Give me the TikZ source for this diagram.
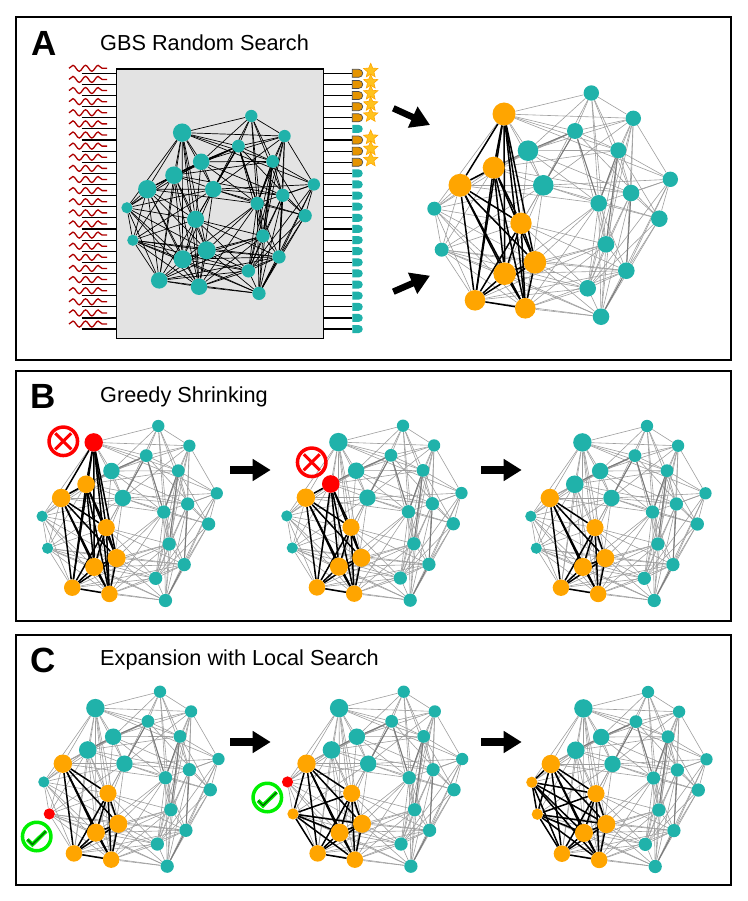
\documentclass[tikz,border=0pt]{standalone}
\usepackage{fontspec}
\setmainfont{Liberation Sans}
\usetikzlibrary{arrows.meta,backgrounds,decorations.pathmorphing,shapes.geometric,shapes.misc}

\definecolor{netteal}{HTML}{20B2AA}
\definecolor{nethot}{HTML}{FFA500}
\definecolor{okgreen}{HTML}{00F000}
\definecolor{starfill}{HTML}{FFC31E}

\tikzset{
  panelbox/.style={draw=black, line width=1.5},
  letter/.style={anchor=base west, inner sep=0, font=\fontsize{35}{40}\selectfont\bfseries},
  title/.style={anchor=base west, inner sep=0, font=\fontsize{21.7}{26}\selectfont},
  tealnode/.style={circle, inner sep=0, fill=netteal},
  hotnode/.style={circle, inner sep=0, fill=nethot},
  rednode/.style={circle, inner sep=0, fill=red},
  netedge/.style={draw=black!38, line width=.6},
  boldedge/.style={draw=black!52, line width=1},
  hotedge/.style={draw=black, line width=1.5},
  bigarrow/.style={-{Triangle[length=18,width=21]}, line width=8},
  tiltarrow/.style={-{Triangle[length=19,width=22]}, line width=6.5},
  wave/.style={draw=red!68!black, line width=1.3, decorate, decoration={snake, segment length=12.6, amplitude=3}},
  rail/.style={draw=black, line width=1.2},
  detoff/.style={rounded rectangle, rounded rectangle west arc=none, inner sep=0, minimum width=10.5, minimum height=8, fill=netteal},
  detclick/.style={detoff, draw=black!70, line width=.7, fill=nethot!90!black},
  clickstar/.style={star, star points=5, star point ratio=2.2, inner sep=0, minimum size=15, fill=starfill, draw=nethot, line width=.6},
  noring/.style={circle, draw=red, line width=3.5, minimum size=28.5, inner sep=0},
  nocross/.style={cross out, draw=red, line width=3, minimum size=13, inner sep=0},
  okring/.style={circle, draw=okgreen, line width=3.5, minimum size=28.5, inner sep=0},
  oktick/.pic={
    \draw[okgreen, line width=4] (-9.3,3) -- (-4.3,8) -- (9.3,-5.3);
    \draw[okgreen!45!black, line width=1.4] (-9.3,3) -- (-4.3,8) -- (9.3,-5.3);
  }
}

% nodes: name / x / y / radius, measured from the top node
\def\netnodes{a1/-87.3/21/11.5, a2/-97.6/74.7/11, a3/-131.3/92.3/11.5, a4/-157/115.7/7, a5/-149.6/156.7/7,
  a6/-70.3/130.3/10.7, a7/-56.3/169.3/11.3, a8/-86.6/180.7/11.3, a9/-116.3/207.3/10.3, a10/-66/215.3/10.3,
  t1/-63.3/57.7/10.3, t2/-48/92.3/10.3, t3/0/0/7.7, t4/-16.3/38/8, t5/42/25.3/7.7, t6/27/57.3/8, t7/79/86.3/7.7,
  t8/39.7/100/8.3, t9/7.4/110.3/8.3, t10/68/125.7/8.3, t11/14.7/151.3/8.3, t12/35/177.7/8.3, t13/-3.6/195.3/8.3, t14/9.7/223.7/8.3}

\def\netedges{a1/a2, a1/a3, a1/a4, a1/a6, a1/a7, a1/a8, a1/a9, a1/a10, a1/t1, a1/t2, a1/t3, a1/t4, a1/t5, a1/t6, a1/t7,
  a2/a3, a2/a4, a2/a5, a2/a6, a2/a7, a2/a8, a2/a9, a2/a10, a2/t1, a2/t2, a2/t4, a2/t6, a2/t8,
  a3/a4, a3/a5, a3/a6, a3/a7, a3/a8, a3/a9, a3/a10, a3/t1, a3/t2, a3/t4, a3/t9,
  a4/a5, a4/a6, a4/a7, a4/a8, a4/a9, a4/a10, a4/t1, a4/t2,
  a5/a6, a5/a7, a5/a8, a5/a9, a5/a10, a5/t2, a5/t12, a5/t13, a5/t14,
  a6/a7, a6/a8, a6/a9, a6/a10, a6/t1, a6/t2, a6/t4, a6/t11, a6/t12, a6/t13,
  a7/a8, a7/a9, a7/a10, a7/t9, a7/t11, a7/t12, a7/t13, a7/t14,
  a8/a9, a8/a10, a8/t2, a8/t9, a8/t11, a8/t12, a8/t13, a8/t14,
  a9/a10, a9/t11, a9/t12, a9/t13, a9/t14,
  a10/t2, a10/t9, a10/t11, a10/t12, a10/t13, a10/t14,
  t1/t2, t1/t3, t1/t4, t1/t5, t1/t6, t1/t8, t1/t9,
  t2/t3, t2/t4, t2/t5, t2/t7, t2/t8, t2/t9, t2/t10,
  t3/t4, t3/t5, t3/t6, t3/t8, t3/t9, t3/t11,
  t4/t5, t4/t6, t4/t9, t4/t10, t4/t11,
  t5/t6, t5/t7, t5/t8, t5/t9, t5/t11, t5/t12, t5/t13,
  t6/t7, t6/t8, t6/t9, t6/t10, t6/t11, t6/t13, t6/t14,
  t7/t8, t7/t9, t7/t10, t7/t12, t7/t13, t7/t14,
  t8/t10, t8/t11, t8/t12, t8/t13, t8/t14,
  t9/t10, t9/t11, t9/t12, t9/t13, t9/t14,
  t10/t12, t10/t13, t10/t14,
  t11/t12, t11/t13, t11/t14,
  t12/t13, t12/t14, t13/t14}

\def\netbold{a2/t1, t1/t4, t2/t4, t4/t9, t6/t11, t8/t12, t12/t14, t6/t9}

% prefix, x, y, xscale, yscale, node scale, nodes in the dark group, red nodes
\newcommand{\netpanel}[8]{
  \foreach \n in {#7} {\expandafter\gdef\csname hot#1\n\endcsname{}}
  \foreach \n in {#8} {\expandafter\gdef\csname red#1\n\endcsname{}}
  \begin{scope}[shift={(#2,#3)}, xscale=#4, yscale=#5]
    \foreach \n/\x/\y/\r in \netnodes {
      \def\nodecol{tealnode}
      \ifcsname hot#1\n\endcsname \def\nodecol{hotnode}\fi
      \ifcsname red#1\n\endcsname \def\nodecol{rednode}\fi
      \node[\nodecol, minimum size=2*\r*#6] (#1\n) at (\x,\y) {};
    }
    \begin{scope}[on background layer]
      \foreach \u/\v in \netedges \draw[netedge] (#1\u) -- (#1\v);
      \foreach \u/\v in \netbold \draw[boldedge] (#1\u) -- (#1\v);
      \foreach \u/\v in \netedges {
        \ifcsname hot#1\u\endcsname \ifcsname hot#1\v\endcsname
          \draw[hotedge] (#1\u) -- (#1\v);
        \fi\fi
      }
    \end{scope}
  \end{scope}
}

\begin{document}
\begin{tikzpicture}[x=1pt, y=-1pt]
\useasboundingbox (0,0) rectangle (747,901);

\draw[panelbox] (16,17) rectangle (731,360);
\draw[panelbox] (16,371) rectangle (731,621);
\draw[panelbox] (16,635) rectangle (731,885);

\node[letter] (letterA) at (31,56) {A};
\node[letter] (letterB) at (30,408.3) {B};
\node[letter] (letterC) at (30,672) {C};
\node[title] (titleA) at (100,50.7) {GBS Random Search};
\node[title] (titleB) at (100,402.3) {Greedy Shrinking};
\node[title] (titleC) at (100,665.7) {Expansion with Local Search};

% panel A: chip with inputs and detectors
\begin{scope}[on background layer]
  \node[draw=black, line width=1.5, fill=black!11, inner sep=0, minimum width=206.6, minimum height=269.3] (chip) at (220,203.6) {};
\end{scope}

\foreach \n in {1,...,24} {
  \pgfmathsetmacro\rowy{73.3+(\n-1)*11.12}
  \coordinate (in\n) at (81.7,\rowy);
  \coordinate (wv\n) at (69,\rowy-5);
  \draw[rail] (in\n) -- (in\n -| chip.west);
  \draw[wave] (wv\n) -- ++(38,0);
  \def\detstyle{detoff}
  \ifnum\n<10 \ifnum\n=6 \else \def\detstyle{detclick}\fi\fi
  \node[\detstyle] (det\n) at (357.5,\rowy) {};
  \draw[rail] (det\n.west -| chip.east) -- (det\n.west);
}
\foreach \n in {1,2,3,4,5,7,8,9}
  \node[clickstar] (star\n) at ([shift={(13.2,-2.5)}]det\n.center) {};

\begin{scope}[netedge/.style={draw=black, line width=.7}, boldedge/.style={draw=black, line width=1.2}]
  \netpanel{g}{251.3}{116}{.792}{.793}{.8}{}{}
\end{scope}

\coordinate (arrAa) at (393.3,108.3);
\coordinate (arrAb) at (430,125);
\coordinate (arrAc) at (393.3,291.7);
\coordinate (arrAd) at (430,275.7);
\draw[tiltarrow] (arrAa) -- (arrAb);
\draw[tiltarrow] (arrAc) -- (arrAd);

\netpanel{s}{591.3}{93}{1}{1}{1}{a1,a2,a3,a6,a7,a8,a9,a10}{}

% panel B
\netpanel{p}{158.3}{426}{.74}{.78}{.8}{a1,a2,a3,a6,a7,a8,a9,a10}{a1}
\netpanel{q}{403}{425.7}{.74}{.78}{.8}{a2,a3,a6,a7,a8,a9,a10}{a2}
\netpanel{r}{647}{426}{.74}{.78}{.8}{a3,a6,a7,a8,a9,a10}{}

\node[noring] (noA) at (63.3,441.3) {};
\node[nocross] (crossA) at (noA) {};
\node[noring] (noB) at (311.7,462.3) {};
\node[nocross] (crossB) at (noB) {};

\coordinate (arrBa) at (230,470);
\coordinate (arrBb) at (270.7,470);
\coordinate (arrBc) at (481,470);
\coordinate (arrBd) at (521.7,470);
\draw[bigarrow] (arrBa) -- (arrBb);
\draw[bigarrow] (arrBc) -- (arrBd);

% panel C
\netpanel{u}{160}{691.7}{.74}{.78}{.8}{a3,a6,a7,a8,a9,a10}{a5}
\netpanel{v}{403.7}{691.7}{.74}{.78}{.8}{a3,a5,a6,a7,a8,a9,a10}{a4}
\netpanel{w}{648}{692}{.74}{.78}{.8}{a3,a4,a5,a6,a7,a8,a9,a10}{}

\node[okring] (okA) at (36.7,836.5) {};
\pic at (okA) {oktick};
\node[okring] (okB) at (267.3,797.5) {};
\pic at (okB) {oktick};

\coordinate (arrCa) at (230,742);
\coordinate (arrCb) at (270.7,742);
\coordinate (arrCc) at (481,742);
\coordinate (arrCd) at (521.7,742);
\draw[bigarrow] (arrCa) -- (arrCb);
\draw[bigarrow] (arrCc) -- (arrCd);

\end{tikzpicture}
\end{document}
